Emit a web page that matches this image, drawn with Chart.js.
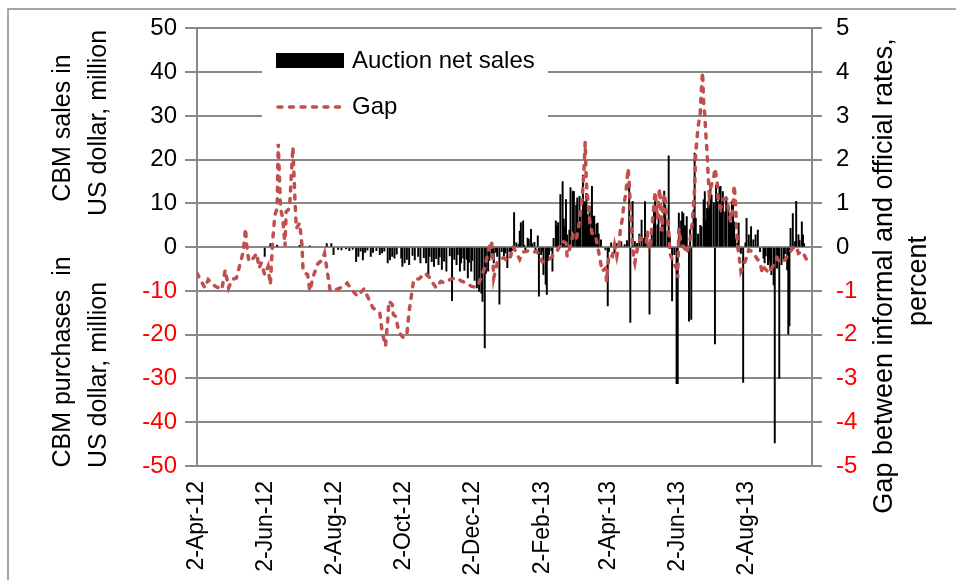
<!DOCTYPE html>
<html lang="en">
<head>
<meta charset="UTF-8">
<title>CBM auction net sales and exchange rate gap</title>
<script src="https://cdn.jsdelivr.net/npm/chart.js"></script>
<style>
    body { margin: 0; background: #fff; }
    #wrap { width: 956px; height: 580px; }
</style>
</head>
<body>
<div id="wrap"><canvas id="chart" width="956" height="580"></canvas></div>
<script>
// x values are days counted from 2-Apr-12
const tickDays = [0, 61, 122, 183, 244, 306, 365, 426, 487];
const tickLabels = ['2-Apr-12', '2-Jun-12', '2-Aug-12', '2-Oct-12', '2-Dec-12', '2-Feb-13', '2-Apr-13', '2-Jun-13', '2-Aug-13'];

// Auction net sales, US$ million (negative = purchases)
const barDays = [60, 65, 71, 91, 100, 115, 119, 121, 125, 128, 132, 135, 138, 141, 143, 145, 147, 149, 151, 154,
    156, 159, 162, 164, 166, 169, 171, 173, 175, 177, 181, 182, 184, 186, 188, 191, 193, 196, 198, 201,
    203, 205, 206, 208, 210, 212, 214, 215, 217, 219, 221, 224, 226, 228, 230, 231, 233, 234, 236, 237,
    239, 240, 241, 243, 244, 246, 248, 250, 252, 253, 255, 256, 258, 259, 261, 262, 263, 265, 266, 268,
    270, 272, 273, 275, 277, 278, 279, 281, 283, 285, 286, 287, 289, 290, 291, 293, 294, 296, 297, 299,
    300, 302, 303, 305, 306, 307, 309, 310, 311, 312, 314, 315, 316, 318, 319, 320, 322, 324, 325, 326,
    327, 328, 330, 331, 333, 334, 336, 337, 338, 339, 340, 342, 343, 344, 345, 346, 347, 348, 349, 350,
    351, 352, 353, 354, 355, 356, 358, 362, 364, 365, 367, 370, 372, 376, 379, 381, 383, 384, 386, 388,
    390, 392, 394, 396, 397, 399, 401, 403, 405, 406, 408, 409, 411, 412, 414, 415, 417, 418, 419, 421,
    423, 425, 426, 427, 429, 430, 431, 432, 433, 434, 436, 437, 438, 440, 441, 442, 444, 446, 447, 449,
    450, 451, 452, 453, 454, 455, 456, 458, 459, 460, 461, 463, 464, 465, 466, 468, 469, 471, 472, 473,
    474, 475, 476, 477, 479, 480, 482, 484, 486, 487, 489, 491, 493, 495, 497, 499, 502, 503, 504, 506,
    507, 508, 509, 511, 512, 514, 515, 516, 518, 520, 521, 523, 524, 525, 526, 528, 530, 531, 533, 534,
    536, 537, 538];
const barValues = [-2.1, 0.8, 0.5, 0.4, 0.3, 0.8, 0.8, -1.7, -0.5, -0.6, -0.4, -0.8, -0.5, -3.3, -2.1, -0.9, -2.9, -1.2, -0.7, -2.1,
    -1.2, -0.8, -1.7, -1.3, -0.9, -3.6, -2.9, -2.1, -2.5, -1.6, -2.5, -4.4, -3.6, -2.8, -4.0, -1.9, -2.9, -2.1, -3.6, -2.4,
    -3.6, -6.2, -2.1, -3.3, -4.4, -2.6, -4.0, -2.2, -5.1, -3.2, -5.5, -2.0, -12.2, -2.8, -4.0, -1.7, -5.5, -3.6, -2.5, -5.3,
    -2.8, -7.0, -3.5, -5.5, -3.0, -7.6, -9.3, -10.1, -10.5, -12.4, -23.0, -6.0, -5.5, -3.0, -2.4, -1.5, -3.6, -1.2, -2.1, -13.0,
    -1.0, -2.4, -1.3, -4.7, -1.0, -2.4, -0.8, 7.9, 1.0, 0.6, 3.7, 5.6, 6.0, 0.5, -0.8, 2.1, 1.8, 4.1, 0.8, 1.1,
    -0.6, 2.6, -11.2, -1.7, -0.9, -6.3, -8.5, -10.8, -3.0, -1.7, -0.8, -5.5, 2.0, 6.0, 4.8, 5.6, 12.0, 15.0, 6.5, 4.7,
    10.9, 2.8, 3.9, 13.6, 12.8, 12.7, 9.6, 11.3, 5.8, 11.6, 8.1, 16.5, 10.4, 10.0, 12.3, 7.5, 5.1, 9.4, 3.5, 13.9,
    7.0, 7.1, 2.8, 5.3, 5.5, 3.0, 1.7, -0.6, -13.4, -1.0, 1.0, -1.4, 0.8, 1.2, 0.6, 1.5, 14.5, -17.2, 10.5, 1.3,
    0.9, 3.0, 6.2, 2.0, 10.4, 3.6, -15.3, 3.9, 9.4, 10.8, 5.1, 7.5, 3.9, 6.6, 12.8, 9.6, 3.6, 20.9, 2.5, -12.3,
    -1.7, -31.2, -31.2, 7.8, 6.0, 8.1, 7.7, 5.0, 4.7, 7.0, -16.9, 4.0, -16.5, 8.5, 21.5, 6.6, 3.0, 5.0, 4.7, 10.8,
    12.7, 6.0, 8.9, 10.4, 9.6, 14.3, 11.9, 10.2, -22.1, 14.2, 10.4, 13.8, 13.9, 8.1, 12.7, 8.1, 11.5, 8.9, 6.0, 7.7,
    10.5, 10.4, 5.8, 2.0, 1.0, 5.5, -1.4, -30.9, 1.0, 6.6, 2.8, 4.7, 1.7, 2.8, 3.9, -1.0, -2.5, -3.6, -2.0, -4.0,
    -3.0, -5.2, -6.3, -8.6, -44.7, -4.8, -2.0, -30.0, -4.0, -2.9, -1.5, -5.2, -19.9, -18.0, 4.3, 7.7, 1.3, 10.5, 2.8, 1.5,
    5.8, 2.8, 0.8];

// Gap between informal and official rates, percent
const gapDays = [0, 3, 7, 10, 16, 22, 25, 28, 31, 35, 38, 41, 43, 44, 46, 50, 53, 55, 57, 60,
    63, 65, 67, 69, 71, 72, 74, 76, 78, 79, 82, 85, 87, 88, 91, 93, 94, 98, 100, 103,
    107, 111, 113, 115, 118, 123, 128, 133, 136, 142, 148, 153, 156, 162, 164, 167, 169, 170, 173, 174,
    176, 179, 183, 186, 188, 191, 192, 197, 202, 206, 209, 212, 216, 219, 225, 230, 234, 238, 243, 247,
    250, 253, 256, 258, 261, 262, 263, 266, 268, 272, 275, 278, 280, 283, 286, 289, 293, 297, 301, 306,
    311, 315, 319, 324, 327, 328, 331, 333, 336, 338, 340, 342, 343, 344, 345, 347, 348, 350, 353, 355,
    357, 359, 362, 363, 365, 368, 370, 372, 374, 375, 377, 378, 380, 381, 382, 383, 384, 385, 386, 387,
    388, 390, 393, 395, 398, 399, 401, 403, 404, 406, 407, 408, 409, 410, 412, 413, 414, 415, 416, 418,
    419, 423, 425, 426, 427, 428, 430, 431, 434, 437, 439, 441, 442, 444, 446, 447, 448, 449, 450, 451,
    452, 453, 454, 455, 458, 459, 461, 462, 464, 467, 470, 471, 473, 475, 476, 477, 478, 479, 481, 482,
    486, 489, 492, 496, 499, 501, 503, 507, 511, 514, 517, 521, 524, 528, 531, 533, 536, 538, 541];
const gapValues = [-0.59, -0.74, -0.93, -0.74, -0.89, -0.97, -0.52, -0.93, -0.74, -0.70, -0.40, -0.10, 0.43, 0.05, -0.33, -0.25, -0.14, -0.48, -0.36, -0.63,
    -0.44, -0.86, 0.13, 0.73, 0.89, 2.36, 0.89, 0.66, 0.02, 0.81, 0.89, 2.29, 0.96, 0.43, 0.55, 0.05, -0.55, -0.63, -1.0, -0.67,
    -0.38, -0.29, -0.14, -0.48, -0.99, -0.97, -0.92, -0.82, -0.93, -1.12, -0.95, -1.23, -1.39, -1.5, -1.92, -2.26, -1.69, -1.23, -1.31, -1.54,
    -1.58, -1.95, -2.07, -1.99, -1.46, -0.93, -0.74, -0.72, -0.59, -0.69, -0.82, -0.93, -0.78, -0.81, -0.73, -0.70, -0.77, -0.81, -0.89, -0.92,
    -0.81, -0.62, -0.36, -0.09, 0.14, -0.17, -0.70, -0.36, -0.28, -0.24, -0.32, -0.20, 0.02, -0.13, -0.28, -0.11, -0.09, -0.13, -0.09, -0.33,
    -0.32, -0.20, -0.09, 0.14, 0.09, -0.21, 0.02, 0.28, 0.17, 0.43, 0.81, 1.34, 1.80, 2.40, 1.49, 0.89, 0.62, 0.32, 0.28, 0.02,
    -0.25, -0.55, -0.48, -0.78, -0.17, -0.21, 0.05, -0.21, 0.05, 0.36, 0.66, 0.92, 1.23, 1.49, 1.80, 1.49, 0.89, 0.36, 0.05, -0.25,
    -0.36, -0.06, 0.20, 0.13, 0.09, 0.36, -0.06, 0.43, 0.70, 1.27, 0.96, 0.66, 1.08, 1.34, 0.36, 0.96, 1.23, 1.04, 0.73, 0.43,
    -0.14, -0.40, -0.48, -0.70, 0.43, 0.24, 0.02, 0.02, -0.14, 0.17, 0.58, 1.34, 2.17, 2.74, 3.08, 3.61, 4.0, 3.31, 3.0, 2.55,
    2.17, 1.64, 1.19, 1.34, 1.61, 1.80, 1.49, 1.04, 0.89, 1.11, 1.10, 0.85, 0.58, 0.89, 1.42, 1.11, 0.51, 0.05, -0.33, -0.55,
    -0.31, -0.06, -0.10, -0.25, -0.36, -0.59, -0.48, -0.59, -0.40, -0.25, -0.36, -0.29, -0.17, -0.02, 0.02, -0.14, -0.10, -0.17, -0.33];

const FONT = '"Liberation Sans", Arial, sans-serif';
const GRID = '#898989';
const GAP_RED = '#c0504d';

const redIfNegative = (c) => (c.tick && c.tick.value < 0 ? '#ff0000' : '#000000');

// border, legend inside the plot and the axis titles
const decorations = {
    id: 'decorations',
    beforeDraw(chart) {
        const ctx = chart.ctx;
        ctx.save();
        ctx.fillStyle = '#fff';
        ctx.fillRect(0, 0, chart.width, chart.height);
        ctx.strokeStyle = GRID;
        ctx.lineWidth = 1.5;
        ctx.strokeRect(8, 9, 1200, 1000);
        ctx.restore();
    },
    beforeDatasetsDraw(chart) {
        const ctx = chart.ctx;
        ctx.save();
        ctx.fillStyle = '#fff';
        ctx.fillRect(262, 33, 286, 102);
        ctx.fillStyle = '#000';
        ctx.fillRect(276, 53, 68, 15);
        ctx.strokeStyle = GAP_RED;
        ctx.lineWidth = 3.5;
        ctx.lineCap = 'round';
        ctx.setLineDash([4, 7.5]);
        ctx.beginPath();
        ctx.moveTo(278, 107);
        ctx.lineTo(344, 107);
        ctx.stroke();
        ctx.setLineDash([]);
        ctx.font = '24px ' + FONT;
        ctx.textBaseline = 'middle';
        ctx.fillStyle = '#000';
        ctx.fillText('Auction net sales', 352, 61);
        ctx.fillText('Gap', 352, 107);
        ctx.restore();
    },
    afterDraw(chart) {
        const ctx = chart.ctx;
        const vtext = (txt, x, y) => {
            ctx.save();
            ctx.translate(x, y);
            ctx.rotate(-Math.PI / 2);
            ctx.fillText(txt, 0, 0);
            ctx.restore();
        };
        ctx.save();
        ctx.fillStyle = '#000';
        ctx.textAlign = 'center';
        ctx.textBaseline = 'middle';
        ctx.font = '25px ' + FONT;
        vtext('CBM sales in', 63, 128);
        vtext('US dollar, million', 99, 123);
        vtext('CBM purchases  in', 63, 362);
        vtext('US dollar, million', 99, 375);
        ctx.font = '27px ' + FONT;
        vtext('Gap between informal and official rates,', 885, 276);
        vtext('percent', 919, 281);
        ctx.restore();
    }
};

const ctx = document.getElementById('chart').getContext('2d');
new Chart(ctx, {
    type: 'bar',
    data: {
        datasets: [
            {
                type: 'line',
                label: 'Gap',
                data: gapDays.map((d, i) => ({ x: d, y: gapValues[i] })),
                yAxisID: 'y1',
                borderColor: GAP_RED,
                borderWidth: 3.5,
                borderDash: [4, 7.5],
                borderCapStyle: 'round',
                pointRadius: 0,
                tension: 0,
                order: 0
            },
            {
                label: 'Auction net sales',
                data: barDays.map((d, i) => ({ x: d, y: barValues[i] })),
                yAxisID: 'y',
                backgroundColor: '#000',
                barThickness: 1.3,
                order: 1
            }
        ]
    },
    options: {
        responsive: false,
        animation: false,
        layout: { padding: { top: 27, left: 0, right: 0, bottom: 0 } },
        plugins: {
            legend: { display: false },
            tooltip: { enabled: false }
        },
        scales: {
            x: {
                type: 'linear',
                min: 0,
                max: 545,
                offset: false,
                grid: { display: false, drawTicks: false },
                border: { display: true, color: GRID, width: 2 },
                afterBuildTicks: (s) => { s.ticks = tickDays.map(v => ({ value: v })); },
                afterFit: (s) => { s.height = 114; },
                ticks: {
                    autoSkip: false,
                    minRotation: 90,
                    maxRotation: 90,
                    padding: 15,
                    color: '#000',
                    font: { family: FONT, size: 23 },
                    callback: (v) => tickLabels[tickDays.indexOf(v)]
                }
            },
            y: {
                position: 'left',
                min: -50,
                max: 50,
                afterFit: (s) => { s.width = 197; },
                ticks: { stepSize: 10, padding: 8, color: redIfNegative, font: { family: FONT, size: 24 } },
                grid: { color: GRID, lineWidth: 2, tickLength: 12 },
                border: { color: GRID, width: 2 }
            },
            y1: {
                position: 'right',
                min: -5,
                max: 5,
                afterFit: (s) => { s.width = 144; },
                ticks: { stepSize: 1, padding: 14, color: redIfNegative, font: { family: FONT, size: 24 } },
                grid: { drawOnChartArea: false, color: GRID, lineWidth: 2, tickLength: 10 },
                border: { color: GRID, width: 2 }
            }
        }
    },
    plugins: [decorations]
});
</script>
</body>
</html>
